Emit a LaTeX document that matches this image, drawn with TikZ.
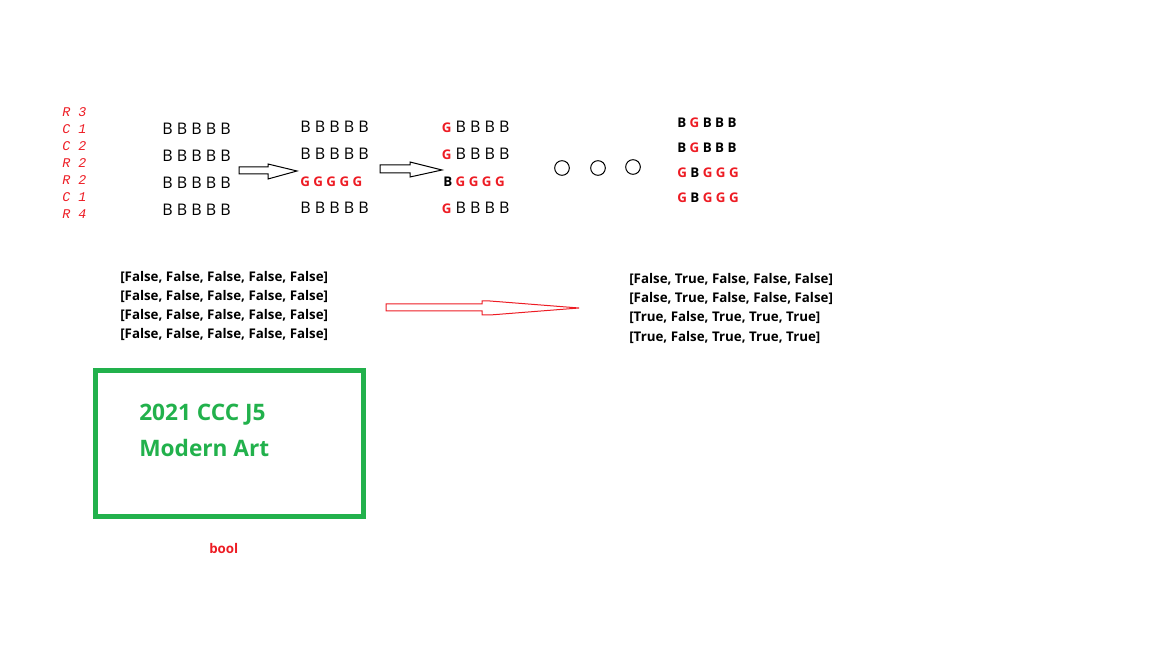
\documentclass[tikz,border=0pt]{standalone}
\usepackage{fontspec}
\setmainfont{Open Sans}
\newfontfamily\opfont{Liberation Mono}
\usepackage{xcolor}
\definecolor{artred}{RGB}{237,28,36}
\definecolor{artgreen}{RGB}{34,177,76}
\newcommand{\rg}{{\fontsize{10}{12}\selectfont\bfseries\color{artred}G}}

\begin{document}
\begin{tikzpicture}[x=0.75pt,y=-0.75pt,
  op/.style={anchor=base west,inner sep=0,text=artred,font=\opfont\itshape\fontsize{10}{12}\selectfont},
  cell/.style={anchor=base west,inner sep=0,font=\fontsize{12}{14}\selectfont},
  boldcell/.style={anchor=base west,inner sep=0,font=\fontsize{10}{12}\selectfont\bfseries},
  dot/.style={draw,circle,inner sep=0,minimum size=11pt,line width=0.75pt},
  hollow/.style={draw,line width=0.75pt,line join=miter}]
\useasboundingbox (0,0) rectangle (1152,648);

\node[op] (op1) at (62,117) {R 3};
\node[op] (op2) at (62,134) {C 1};
\node[op] (op3) at (62,151) {C 2};
\node[op] (op4) at (62,168) {R 2};
\node[op] (op5) at (62,185) {R 2};
\node[op] (op6) at (62,202) {C 1};
\node[op] (op7) at (62,219) {R 4};

\node[cell] (startA) at (162,135) {B B B B B};
\node[cell] (startB) at (162,162) {B B B B B};
\node[cell] (startC) at (162,189) {B B B B B};
\node[cell] (startD) at (162,216) {B B B B B};

\draw[hollow] (239,167) -- (268,167) -- (268,164) -- (297,171) -- (268,179) -- (268,174) -- (239,174) -- cycle;

\node[cell] (rowA) at (300,132.5) {B B B B B};
\node[cell] (rowB) at (300,159.5) {B B B B B};
\node[boldcell,text=artred] (rowC) at (300,186.5) {G G G G G};
\node[cell] (rowD) at (300,213.5) {B B B B B};

\draw[hollow] (380,165) -- (410,165) -- (410,162) -- (442,170) -- (410,177) -- (410,173) -- (380,173) -- cycle;

\node[cell] (colA) at (441.5,132.5) {\rg{} B B B B};
\node[cell] (colB) at (441.5,159.5) {\rg{} B B B B};
\node[boldcell] (colC) at (443,186.5) {B \textcolor{artred}{G G G G}};
\node[cell] (colD) at (441.5,213.5) {\rg{} B B B B};

\node[dot] (dot1) at (562,168) {};
\node[dot] (dot2) at (598,168) {};
\node[dot] (dot3) at (633,167) {};

\node[boldcell] (endA) at (677,128) {B \textcolor{artred}{G} B B B};
\node[boldcell] (endB) at (677,153) {B \textcolor{artred}{G} B B B};
\node[boldcell] (endC) at (677,178) {\textcolor{artred}{G} B \textcolor{artred}{G G G}};
\node[boldcell] (endD) at (677,203) {\textcolor{artred}{G} B \textcolor{artred}{G G G}};

\node[boldcell] (maskA) at (120,282) {[False, False, False, False, False]};
\node[boldcell] (maskB) at (120,301) {[False, False, False, False, False]};
\node[boldcell] (maskC) at (120,320) {[False, False, False, False, False]};
\node[boldcell] (maskD) at (120,339) {[False, False, False, False, False]};

\draw[hollow,artred] (386,304) -- (482,304) -- (482,301) -- (490,301) -- (579,308) -- (490,315) -- (482,315) -- (482,311) -- (386,311) -- cycle;

\node[boldcell] (doneA) at (629,284) {[False, True, False, False, False]};
\node[boldcell] (doneB) at (629,303) {[False, True, False, False, False]};
\node[boldcell] (doneC) at (629,322) {[True, False, True, True, True]};
\node[boldcell] (doneD) at (629,341) {[True, False, True, True, True]};

\draw[artgreen,line width=3.75pt] (95.8,370.8) rectangle (363.3,516.5);
\node[anchor=base west,inner sep=0,text=artgreen,font=\fontsize{17}{20}\selectfont\bfseries] (title) at (139,420.7) {2021 CCC J5};
\node[anchor=base west,inner sep=0,text=artgreen,font=\fontsize{17}{20}\selectfont\bfseries] (subtitle) at (139,456.7) {Modern Art};

\node[boldcell,text=artred] (bool) at (209,553) {bool};
\end{tikzpicture}
\end{document}
